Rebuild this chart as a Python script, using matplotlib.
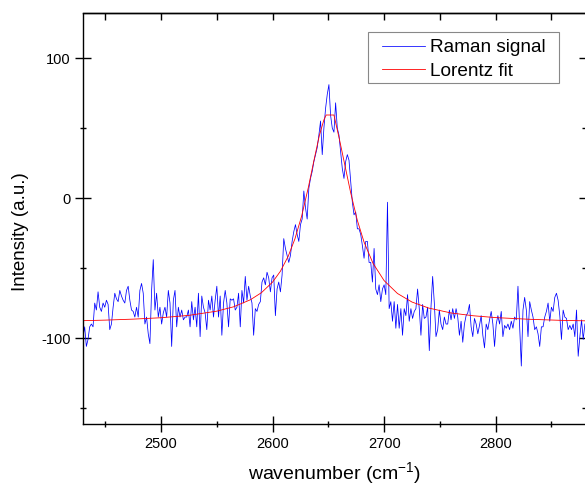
import numpy as np
import matplotlib
matplotlib.use("Agg")
import matplotlib.pyplot as plt
from matplotlib.ticker import MultipleLocator
from matplotlib.patches import Rectangle

# spectre Raman mesuré (pas régulier de 1.5 cm-1 entre 2430 et 2880)
intensity = [
    -99, -92, -106, -101, -92, -90, -92, -75, -80, -67,
    -78, -81, -75, -78, -73, -76, -94, -90, -78, -68,
    -72, -74, -66, -70, -73, -75, -66, -63, -73, -80,
    -81, -85, -78, -85, -66, -61, -68, -90, -85, -97,
    -104, -66, -44, -80, -68, -85, -78, -90, -82, -78,
    -85, -66, -75,
    -106, -73, -66, -92, -78, -85, -80,
    -87, -85, -85, -80, -92, -74, -87, -78, -92, -68,
    -99, -70, -78, -82, -94, -73, -80, -70, -85, -73,
    -63, -85, -70, -98, -75, -66, -75, -92, -72, -73,
    -72, -80, -78, -68, -92, -66, -75, -56, -73, -63,
    -70, -75,
    -98, -79, -81, -76, -74, -60, -57, -62,
    -53, -57, -67, -57, -55, -84, -65, -60, -67, -55,
    -29, -36, -41, -46, -41, -31, -24, -19, -26, -31,
    -19, -15, 5, -7, -15, 7, 14, 19, 26, 31,
    36, 45, 55, 31, 50, 64, 74, 81, 59, 50,
    47, 68, 50,
    45, 33, 21, 14, 26, 31, 27,
    12, -3, -12, -10, -22, -22, -26, -34, -43, -31,
    -31, -46, -46, -60, -36, -65, -69, -62, -74, -65,
    -62, -69, -3, -79, -74, -88, -74, -93, -76, -93,
    -79, -98, -79, -84, -69, -88, -79, -86, -81, -79,
    -65, -79, -98, -76, -86,
    -85, -78, -109, -78, -56,
    -75, -99, -94, -80, -90, -94, -85, -90, -90, -80,
    -87, -79, -86, -79, -85, -98, -88, -103, -90, -84,
    -82, -76, -92, -99, -86, -90, -97, -91, -84, -98,
    -107, -90, -94, -87, -81, -90, -106, -90, -84, -90,
    -81, -99, -91, -93, -90, -94, -88, -93,
    -85, -87,
    -63, -92, -120, -80, -71, -80, -99, -74, -80, -85,
    -94, -92, -97, -106, -92, -92, -85, -81, -75, -88,
    -78, -81, -71, -68, -73, -84, -101, -80, -85, -86,
    -94, -91, -94, -90, -99, -80, -113, -99, -87, -101,
    -90,
]
wavenumber = np.linspace(2430, 2880, len(intensity))

# courbe d'ajustement lorentzien
fit_x = [2430, 2450, 2475, 2500, 2525, 2550, 2565, 2580, 2590, 2600,
         2607, 2614, 2620, 2626, 2632, 2637, 2642, 2646, 2648, 2655,
         2660, 2665, 2670, 2676, 2682, 2690, 2700, 2712, 2725, 2740,
         2760, 2780, 2800, 2830, 2860, 2880]
fit_y = [-87.6, -87.2, -86.5, -85.5, -83.8, -80.8, -77.7, -72.7, -67.6, -60.0,
         -52.3, -41.6, -29.2, -13.0, 7.4, 26.6, 45.0, 55.8, 59.3, 59.3,
         41.6, 22.7, 3.8, -16.0, -31.5, -46.6, -59.0, -68.2, -74.3, -78.6,
         -82.1, -84.1, -85.4, -86.6, -87.4, -87.7]

plt.rcParams['font.family'] = ['Liberation Sans', 'DejaVu Sans']
plt.rcParams['axes.unicode_minus'] = False
plt.rcParams['mathtext.fontset'] = 'custom'
plt.rcParams['mathtext.rm'] = 'Liberation Sans'
plt.rcParams['mathtext.default'] = 'regular'

fig = plt.figure(figsize=(5.85, 4.86), dpi=100)
ax = fig.add_axes([83 / 585, 1 - 424 / 486, 503 / 585, 410.5 / 486])

ax.plot(wavenumber, intensity, color='#0000ff', lw=0.55, label='Raman signal')
ax.plot(fit_x, fit_y, color='#ff0000', lw=0.6, label='Lorentz fit')

ax.set_xlim(2430, 2881)
ax.set_ylim(-161.4, 131.8)

ax.xaxis.set_major_locator(MultipleLocator(100))
ax.xaxis.set_minor_locator(MultipleLocator(50))
ax.yaxis.set_major_locator(MultipleLocator(100))
ax.yaxis.set_minor_locator(MultipleLocator(50))
ax.tick_params(which='major', direction='inout', length=11, width=1.0,
               labelsize=10.5, pad=3.5, top=False, right=False)
ax.tick_params(which='minor', direction='inout', length=5, width=1.0,
               top=False, right=False)

# graduations intérieures en haut et à droite
top = ax.secondary_xaxis('top')
top.xaxis.set_major_locator(MultipleLocator(100))
top.xaxis.set_minor_locator(MultipleLocator(50))
top.tick_params(which='both', direction='in', length=5, width=1.0, labeltop=False)
right = ax.secondary_yaxis('right')
right.yaxis.set_major_locator(MultipleLocator(100))
right.yaxis.set_minor_locator(MultipleLocator(50))
right.tick_params(which='major', direction='in', length=5, width=1.0, labelright=False)
right.tick_params(which='minor', direction='in', length=3, width=1.0)

for sp in list(ax.spines.values()) + [top.spines['top'], right.spines['right']]:
    sp.set_linewidth(1.0)

ax.set_xlabel(r'wavenumber (cm$^{-1}$)', fontsize=14)
ax.set_ylabel('Intensity (a.u.)', fontsize=13.5)
ax.xaxis.label.set_va('baseline')
ax.xaxis.set_label_coords(0.5, -0.1345)
ax.yaxis.set_label_coords(-0.107, 0.468)

# cadre de la légende, plus large que le contenu
ax.add_patch(Rectangle((0.5666, 0.8307), 0.3797, 0.1242, transform=ax.transAxes,
                       fill=True, facecolor='white', edgecolor='#888888',
                       lw=0.8, zorder=4))
leg = ax.legend(loc='upper left', bbox_to_anchor=(0.594, 0.9379), borderaxespad=0,
                fontsize=13.7, frameon=False, handlelength=2.27,
                handletextpad=0.27, labelspacing=0.33, borderpad=0)
leg.set_zorder(5)

fig.savefig('out.png', dpi=100)
